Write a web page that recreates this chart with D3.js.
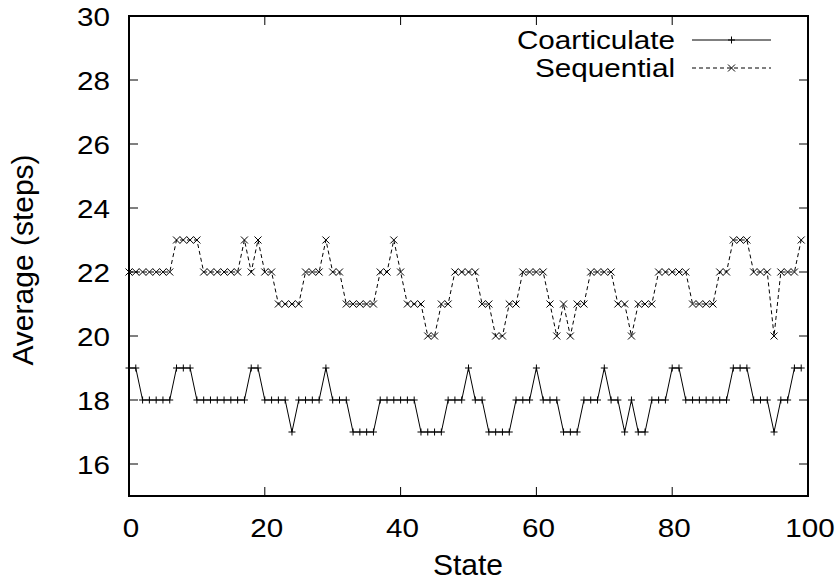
<!DOCTYPE html>
<html>
<head>
<meta charset="utf-8">
<script src="https://cdn.jsdelivr.net/npm/d3@7"></script>
<style>
  body { margin: 0; background: #fff; }
  text { font-family: "Liberation Sans", Arial, sans-serif; fill: #000; }
</style>
</head>
<body>
<div id="chart"></div>
<script>
// values, one per state 0..99
var coarticulate = [
  19,19,18,18,18,18,18,19,19,19,
  18,18,18,18,18,18,18,18,19,19,
  18,18,18,18,17,18,18,18,18,19,
  18,18,18,17,17,17,17,18,18,18,
  18,18,18,17,17,17,17,18,18,18,
  19,18,18,17,17,17,17,18,18,18,
  19,18,18,18,17,17,17,18,18,18,
  19,18,18,17,18,17,17,18,18,18,
  19,19,18,18,18,18,18,18,18,19,
  19,19,18,18,18,17,18,18,19,19
];
var sequential = [
  22,22,22,22,22,22,22,23,23,23,
  23,22,22,22,22,22,22,23,22,23,
  22,22,21,21,21,21,22,22,22,23,
  22,22,21,21,21,21,21,22,22,23,
  22,21,21,21,20,20,21,21,22,22,
  22,22,21,21,20,20,21,21,22,22,
  22,22,21,20,21,20,21,21,22,22,
  22,22,21,21,20,21,21,21,22,22,
  22,22,22,21,21,21,21,22,22,23,
  23,23,22,22,22,20,22,22,22,23
];
var seriesNames = ["Coarticulate", "Sequential"];
var xTicks = [0, 20, 40, 60, 80, 100];
var yTicks = [16, 18, 20, 22, 24, 26, 28, 30];

var W = 838, H = 585;
// plot box (named so they don't clash with window.top etc.)
var pL = 129, pR = 808, pT = 16, pB = 496;

var svg = d3.select("#chart").append("svg")
  .attr("width", W).attr("height", H);

var x = d3.scaleLinear().domain([0, 100]).range([pL, pR]);
var y = d3.scaleLinear().domain([15, 30]).range([pB, pT]);

var tickLen = 9;
var fs = 26, stretch = 1.14;   // gnuplot text looks a bit wide

// text that is stretched horizontally, anchored at (tx, ty)
function wideText(tx, ty, str, anchor) {
  svg.append("g")
    .attr("transform", "translate(" + tx + "," + ty + ") scale(" + stretch + ",1)")
    .append("text")
    .attr("text-anchor", anchor)
    .attr("font-size", fs)
    .text(str);
}

// ticks on all four sides, pointing inward (gnuplot style)
var axisG = svg.append("g").attr("stroke", "#000").attr("stroke-width", 1);
xTicks.forEach(function(t) {
  if (t === 0 || t === 100) return;
  axisG.append("line").attr("x1", x(t)).attr("x2", x(t))
    .attr("y1", pB).attr("y2", pB - tickLen);
  axisG.append("line").attr("x1", x(t)).attr("x2", x(t))
    .attr("y1", pT).attr("y2", pT + tickLen);
});
yTicks.forEach(function(t) {
  if (t === 30) return;
  axisG.append("line").attr("x1", pL).attr("x2", pL + tickLen)
    .attr("y1", y(t)).attr("y2", y(t));
  axisG.append("line").attr("x1", pR).attr("x2", pR - tickLen)
    .attr("y1", y(t)).attr("y2", y(t));
});

// tick labels
xTicks.forEach(function(t) { wideText(x(t) + 2, 537, t, "middle"); });
yTicks.forEach(function(t) { wideText(110, y(t) + 9.5, t, "end"); });

// axis titles
svg.append("text")
  .attr("x", 468).attr("y", 575)
  .attr("text-anchor", "middle").attr("font-size", 30)
  .text("State");
svg.append("text")
  .attr("transform", "translate(33,260) rotate(-90)")
  .attr("text-anchor", "middle").attr("font-size", 30)
  .text("Average (steps)");

var line = d3.line()
  .x(function(d, i) { return x(i); })
  .y(function(d) { return y(d); });

function plusMark(g, cx, cy) {
  var s = 3.5;
  g.append("path")
    .attr("d", "M" + (cx - s) + "," + cy + "H" + (cx + s) + "M" + cx + "," + (cy - s) + "V" + (cy + s))
    .attr("stroke", "#000").attr("stroke-width", 1).attr("fill", "none");
}
function crossMark(g, cx, cy) {
  var s = 3.5;
  g.append("path")
    .attr("d", "M" + (cx - s) + "," + (cy - s) + "L" + (cx + s) + "," + (cy + s) +
               "M" + (cx - s) + "," + (cy + s) + "L" + (cx + s) + "," + (cy - s))
    .attr("stroke", "#000").attr("stroke-width", 1).attr("fill", "none");
}

// coarticulate: solid line with + points
svg.append("path").datum(coarticulate)
  .attr("d", line)
  .attr("fill", "none").attr("stroke", "#000").attr("stroke-width", 1);
var pts1 = svg.append("g");
coarticulate.forEach(function(d, i) { plusMark(pts1, x(i), y(d)); });

// sequential: dashed line with x points
svg.append("path").datum(sequential)
  .attr("d", line)
  .attr("fill", "none").attr("stroke", "#000").attr("stroke-width", 1)
  .attr("stroke-dasharray", "4,3");
var pts2 = svg.append("g");
sequential.forEach(function(d, i) { crossMark(pts2, x(i), y(d)); });

// legend
var legend = svg.append("g");
var lx1 = 692, lx2 = 771, ly = [40, 68];
seriesNames.forEach(function(name, i) {
  wideText(675, ly[i] + 9, name, "end");
  legend.append("line")
    .attr("x1", lx1).attr("x2", lx2).attr("y1", ly[i]).attr("y2", ly[i])
    .attr("stroke", "#000").attr("stroke-width", 1)
    .attr("stroke-dasharray", i === 1 ? "4,3" : null);
  if (i === 0) plusMark(legend, (lx1 + lx2) / 2, ly[i]);
  else crossMark(legend, (lx1 + lx2) / 2, ly[i]);
});

// frame
svg.append("rect")
  .attr("x", pL).attr("y", pT)
  .attr("width", pR - pL).attr("height", pB - pT)
  .attr("fill", "none").attr("stroke", "#000").attr("stroke-width", 2);
</script>
</body>
</html>
